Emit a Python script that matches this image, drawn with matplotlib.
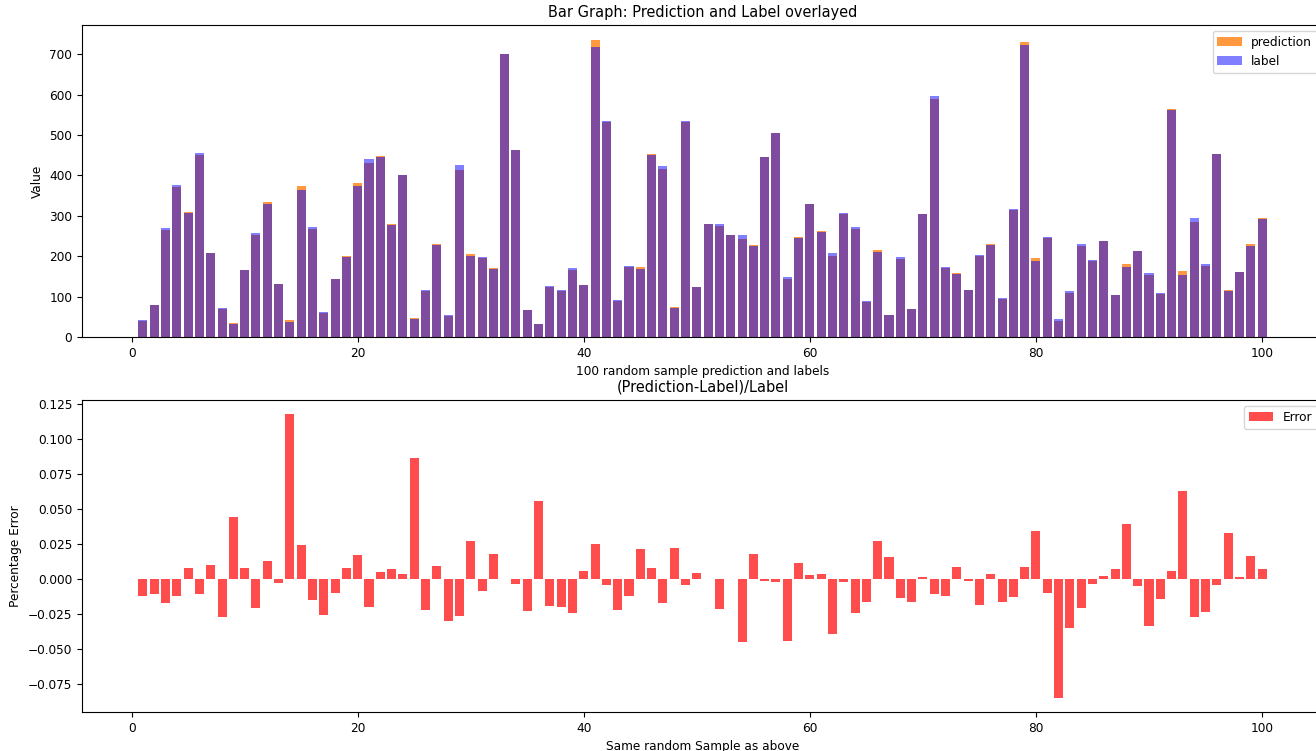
import numpy as np
import matplotlib.pyplot as plt

plt.rcParams['font.size'] = 8.7

# muestra de 100 casos: etiqueta real, prediccion del modelo y error relativo
sample_idx = np.arange(1, 101)

label = [41, 80, 270, 376, 307, 455, 207, 71, 33, 165,
         258, 329, 132, 38, 364, 272, 61, 144, 199, 374,
         440, 445, 277, 400, 44, 117, 227, 54, 425, 201,
         198, 168, 702, 464, 68, 31, 127, 116, 170, 128,
         718, 536, 92, 175, 169, 451, 423, 72, 534, 123,
         280, 280, 253, 253, 225, 446, 506, 149, 245, 329,
         261, 208, 306, 273, 89, 210, 54, 197, 70, 304,
         596, 174, 157, 117, 204, 229, 96, 318, 724, 189,
         247, 44, 114, 230, 190, 238, 103, 173, 214, 158,
         109, 561, 153, 294, 180, 454, 113, 160, 226, 292]

prediction = [40.5, 79.1, 265.4, 371.5, 309.5, 450.1, 209.0, 69.1, 34.5, 166.2,
              252.7, 333.1, 131.6, 42.5, 372.7, 267.9, 59.4, 142.6, 200.6, 380.4,
              431.2, 447.1, 279.0, 401.4, 47.8, 114.4, 229.1, 52.4, 413.8, 206.5,
              196.3, 171.0, 702.0, 462.2, 66.4, 32.7, 124.5, 113.7, 165.9, 128.7,
              735.8, 533.6, 90.0, 172.9, 172.5, 454.3, 415.9, 73.6, 531.6, 123.5,
              280.0, 274.1, 253.0, 241.6, 229.0, 445.5, 505.0, 142.4, 247.7, 329.9,
              261.9, 199.8, 305.2, 266.4, 87.5, 215.8, 54.8, 194.3, 68.9, 304.3,
              589.6, 171.8, 158.4, 116.8, 200.2, 229.8, 94.4, 313.8, 730.2, 195.4,
              244.5, 40.3, 110.0, 225.2, 189.3, 238.4, 103.7, 179.7, 212.9, 152.7,
              107.4, 564.1, 162.6, 285.9, 175.7, 452.0, 116.7, 160.2, 229.6, 294.1]

error = [-0.0126, -0.0107, -0.0169, -0.0119, 0.0081, -0.0107, 0.0098, -0.0269, 0.0440, 0.0074,
         -0.0205, 0.0124, -0.0033, 0.1176, 0.0240, -0.0150, -0.0260, -0.0100, 0.0081, 0.0171,
         -0.0200, 0.0048, 0.0071, 0.0036, 0.0864, -0.0219, 0.0093, -0.0302, -0.0264, 0.0274,
         -0.0088, 0.0179, 0.0000, -0.0038, -0.0233, 0.0557, -0.0193, -0.0200, -0.0243, 0.0055,
         0.0248, -0.0045, -0.0219, -0.0119, 0.0210, 0.0074, -0.0169, 0.0221, -0.0045, 0.0040,
         0.0000, -0.0212, 0.0000, -0.0452, 0.0179, -0.0012, -0.0019, -0.0445, 0.0112, 0.0026,
         0.0036, -0.0395, -0.0026, -0.0243, -0.0164, 0.0274, 0.0155, -0.0136, -0.0164, 0.0010,
         -0.0107, -0.0126, 0.0086, -0.0017, -0.0188, 0.0036, -0.0162, -0.0131, 0.0086, 0.0340,
         -0.0100, -0.0850, -0.0350, -0.0210, -0.0038, 0.0017, 0.0067, 0.0390, -0.0050, -0.0336,
         -0.0143, 0.0055, 0.0626, -0.0274, -0.0238, -0.0043, 0.0329, 0.0010, 0.0160, 0.0071]

fig = plt.figure(figsize=(13.16, 7.51), dpi=100)
# los ejes llegan un poco mas alla del borde derecho de la figura
ax1 = fig.add_axes([0.0623, 0.5513, 0.943, 0.4154])
ax2 = fig.add_axes([0.0623, 0.0519, 0.943, 0.4154])

# Panel superior: prediccion y etiqueta superpuestas
ax1.bar(sample_idx, prediction, color='#ff7f0e', alpha=0.8, label='prediction')
ax1.bar(sample_idx, label, color='blue', alpha=0.5, label='label')
ax1.set_title("Bar Graph: Prediction and Label overlayed")
ax1.set_xlabel("100 random sample prediction and labels")
ax1.set_ylabel("Value")
ax1.legend(loc='upper right')

# Panel inferior: error relativo
ax2.bar(sample_idx, error, color='red', alpha=0.7, label='Error')
ax2.set_title("(Prediction-Label)/Label")
ax2.set_xlabel("Same random Sample as above")
ax2.set_ylabel("Percentage Error")
ax2.legend(loc='upper right')

fig.savefig("out.png", dpi=100)
